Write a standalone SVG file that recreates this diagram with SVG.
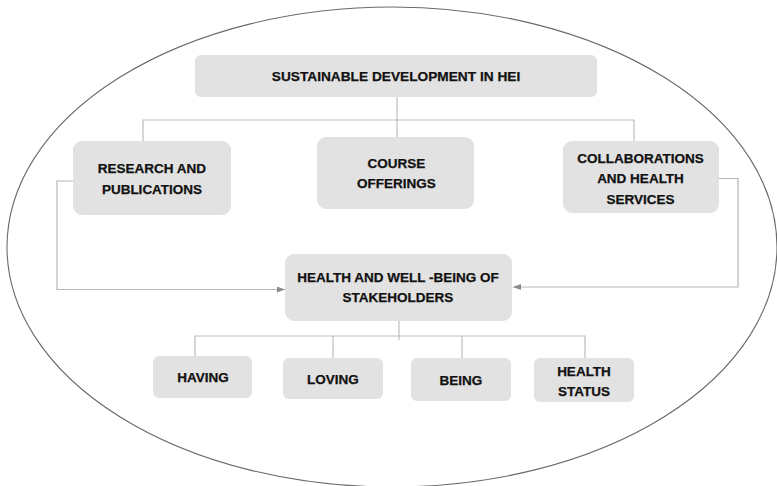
<svg xmlns="http://www.w3.org/2000/svg" width="777" height="486" viewBox="0 0 777 486">
  <defs>
    <marker id="arrow" viewBox="0 0 8 6" refX="8" refY="3" markerWidth="8" markerHeight="6" markerUnits="userSpaceOnUse" orient="auto">
      <path d="M0,0 L8,3 L0,6 Z" fill="#8a8a8a"/>
    </marker>
  </defs>
  <style>
    .box { fill: #e2e2e2; stroke: none; }
    .label { font-family: "Liberation Sans", Arial, sans-serif; font-weight: bold; font-size: 13.5px; fill: #111111; text-anchor: middle; stroke: #111111; stroke-width: 0.25; }
    .link { fill: none; stroke: #bdbdbd; stroke-width: 1.2; }
    .flow { fill: none; stroke: #b5b5b5; stroke-width: 1.2; marker-end: url(#arrow); }
    .frame { fill: none; stroke: #6a6a6a; stroke-width: 1.1; }
  </style>

  <rect width="777" height="486" fill="#ffffff"/>

  <!-- enclosing ellipse -->
  <ellipse class="frame" cx="392" cy="247" rx="385" ry="240"/>

  <!-- connectors -->
  <g id="connectors">
    <path class="link" d="M397,97 V137"/>
    <path class="link" d="M143,141 V120 H634 V141"/>
    <path class="flow" d="M73,181 H57 V289.5 H285"/>
    <path class="flow" d="M719,178.5 H738 V287 H513"/>
    <path class="link" d="M399,321 V340"/>
    <path class="link" d="M195,356 V336 H585 V358"/>
    <path class="link" d="M333,336 V358"/>
    <path class="link" d="M462,336 V358"/>
  </g>

  <g id="node-sd">
    <rect class="box" x="195" y="55" width="402" height="42" rx="6"/>
    <text class="label" x="396" y="81" style="font-size:13.7px">SUSTAINABLE DEVELOPMENT IN HEI</text>
  </g>

  <g id="node-research">
    <rect class="box" x="73" y="141" width="158" height="74" rx="9"/>
    <text class="label" x="152" y="173">RESEARCH AND</text>
    <text class="label" x="152" y="194">PUBLICATIONS</text>
  </g>

  <g id="node-course">
    <rect class="box" x="317" y="137" width="157" height="72" rx="9"/>
    <text class="label" x="396.5" y="168">COURSE</text>
    <text class="label" x="396.5" y="188">OFFERINGS</text>
  </g>

  <g id="node-collab">
    <rect class="box" x="563" y="141" width="156" height="72" rx="9"/>
    <text class="label" x="640.5" y="163">COLLABORATIONS</text>
    <text class="label" x="640.5" y="183">AND HEALTH</text>
    <text class="label" x="640.5" y="204">SERVICES</text>
  </g>

  <g id="node-wellbeing">
    <rect class="box" x="285" y="254" width="227" height="67" rx="9"/>
    <text class="label" x="398" y="282">HEALTH AND WELL -BEING OF</text>
    <text class="label" x="398" y="302">STAKEHOLDERS</text>
  </g>

  <g id="node-having">
    <rect class="box" x="153" y="356" width="99" height="42" rx="6"/>
    <text class="label" x="203" y="382">HAVING</text>
  </g>

  <g id="node-loving">
    <rect class="box" x="283" y="358" width="100" height="41" rx="6"/>
    <text class="label" x="333" y="384">LOVING</text>
  </g>

  <g id="node-being">
    <rect class="box" x="411" y="358" width="100" height="43" rx="6"/>
    <text class="label" x="461" y="385">BEING</text>
  </g>

  <g id="node-status">
    <rect class="box" x="534" y="358" width="100" height="44" rx="6"/>
    <text class="label" x="584" y="376">HEALTH</text>
    <text class="label" x="584" y="396">STATUS</text>
  </g>
</svg>
